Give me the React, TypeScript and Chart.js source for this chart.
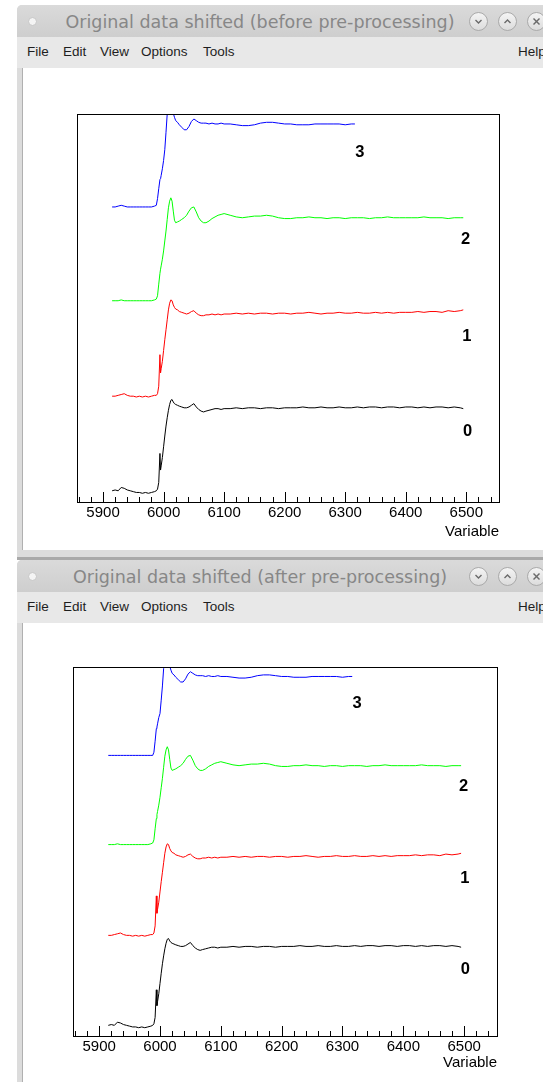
import React, { useEffect, useRef } from "react";
import { Chart, registerables } from "chart.js";

Chart.register(...registerables);

// ---------- data (normalised absorption, before vertical shift) ----------
const X_HEAD = [
  5915, 5920, 5925, 5930, 5935, 5940, 5945, 5950, 5955, 5960, 5965, 5970, 5975, 5980, 5985, 5988,
  5990, 5992, 5994, 5995, 5996, 5998, 6000, 6002, 6004, 6006, 6008, 6010, 6012, 6014, 6016, 6018, 6020, 6023,
  6026, 6030, 6034, 6038, 6042, 6046, 6050, 6054, 6058, 6062, 6066, 6070, 6075, 6080, 6085, 6090, 6095, 6100,
];
const X_TAIL = [
  6110, 6120, 6130, 6140, 6150, 6160, 6170, 6180, 6190, 6200, 6210, 6220, 6230, 6240, 6250, 6260, 6270, 6280, 6290, 6300,
  6310, 6320, 6330, 6340, 6350, 6360, 6370, 6380, 6390, 6400, 6410, 6420, 6430, 6440, 6450, 6460, 6470, 6480, 6490, 6495,
];
const X_TAIL_BLUE = [
  6110, 6120, 6130, 6140, 6150, 6160, 6170, 6180, 6190, 6200, 6210, 6220, 6230, 6240, 6250, 6260, 6270, 6280, 6290, 6300,
  6310, 6316,
];

const SERIES_0 = [
  0.0, 0.01, 0.0, 0.04, 0.03, 0.01, 0.0, -0.01, -0.02, -0.02, -0.03, -0.02, -0.03, -0.02, -0.01, 0.0,
  0.02, 0.1, 0.45, 0.25, 0.3, 0.4, 0.53, 0.66, 0.78, 0.88, 0.97, 1.04, 1.09, 1.1, 1.07, 1.05, 1.04, 1.03,
  1.02, 1.01, 1.0, 1.0, 1.01, 1.03, 1.05, 1.01, 0.98, 0.96, 0.95, 0.96, 0.97, 0.98, 0.99, 0.99, 0.98, 0.99,
  0.99, 1.0, 0.99, 1.0, 1.0, 0.99, 1.0, 1.0, 0.99, 1.0, 1.0, 1.0, 1.01, 1.0, 1.0, 1.01, 1.0, 1.0, 1.01, 1.0,
  1.0, 1.01, 1.0, 1.01, 1.01, 1.0, 1.01, 1.01, 1.0, 1.01, 1.01, 1.0, 1.01, 1.0, 1.01, 1.01, 1.0, 1.01, 1.0, 0.99,
];
const SERIES_1 = [
  0.0, 0.0, 0.01, 0.02, 0.03, 0.01, 0.0, 0.0, -0.01, 0.0, -0.01, 0.0, -0.01, 0.0, 0.01, 0.01,
  0.03, 0.12, 0.5, 0.28, 0.33, 0.42, 0.55, 0.68, 0.8, 0.92, 1.04, 1.12, 1.16, 1.15, 1.1, 1.07, 1.05, 1.04,
  1.02, 1.01, 1.0, 0.99, 1.0, 1.02, 1.03, 1.0, 0.98, 0.97, 0.97, 0.98, 0.98, 0.99, 0.98, 0.99, 0.98, 0.99,
  0.99, 1.0, 0.99, 1.0, 0.99, 1.0, 1.0, 0.99, 1.0, 1.0, 0.99, 1.0, 1.0, 1.01, 1.0, 0.99, 1.0, 1.0, 1.01, 1.0,
  1.0, 1.01, 1.0, 1.0, 1.01, 1.0, 1.01, 1.0, 1.01, 1.01, 1.01, 1.02, 1.01, 1.02, 1.02, 1.01, 1.03, 1.02, 1.03, 1.04,
];
const SERIES_2 = [
  0.0, 0.0, 0.0, 0.01, 0.0, 0.0, 0.0, 0.0, 0.0, 0.0, 0.0, 0.0, 0.0, 0.0, 0.01, 0.02,
  0.06, 0.2, 0.33, 0.38, 0.42, 0.5, 0.6, 0.72, 0.84, 0.98, 1.12, 1.2, 1.24, 1.2, 1.08, 0.97, 0.94, 0.95,
  0.96, 0.98, 1.0, 1.03, 1.08, 1.12, 1.13, 1.07, 1.0, 0.96, 0.94, 0.94, 0.96, 0.99, 1.01, 1.03, 1.04, 1.05,
  1.03, 1.01, 1.0, 1.01, 1.02, 1.02, 1.03, 1.02, 1.0, 0.99, 0.99, 1.0, 1.0, 1.01, 1.0, 1.0, 0.99, 1.0, 1.0, 0.99,
  1.0, 1.0, 1.0, 0.99, 1.0, 1.0, 1.01, 1.0, 1.0, 1.0, 1.0, 1.0, 1.01, 1.0, 1.0, 1.0, 0.99, 1.0, 1.0, 1.0,
];
const SERIES_3_BEFORE = [
  0.0, 0.0, 0.01, 0.02, 0.01, 0.0, 0.0, 0.0, 0.0, 0.0, 0.0, 0.0, 0.0, 0.0, 0.01, 0.02,
  0.1, 0.22, 0.33, 0.34, 0.38, 0.46, 0.56, 0.69, 0.9, 1.12, 1.18, 1.21, 1.2, 1.17, 1.13, 1.08, 1.04, 1.02,
  0.99, 0.96, 0.93, 0.93, 0.97, 1.03, 1.06, 1.04, 1.02, 1.01, 1.01, 1.01, 1.0, 1.01, 1.0, 1.0, 1.01, 1.0,
  1.0, 0.99, 0.98, 0.98, 0.99, 1.01, 1.02, 1.02, 1.01, 1.0, 1.0, 0.99, 0.99, 0.99, 1.0, 1.0, 1.0, 1.0, 1.0, 0.99,
  1.0, 1.0,
];
const SERIES_3_AFTER = [
  0.0, 0.0, 0.0, 0.0, 0.0, 0.0, 0.0, 0.0, 0.0, 0.0, 0.0, 0.0, 0.0, 0.0, 0.0, 0.0,
  0.04, 0.18, 0.34, 0.36, 0.4, 0.48, 0.53, 0.7, 0.88, 1.1, 1.18, 1.21, 1.2, 1.17, 1.13, 1.08, 1.04, 1.02,
  0.99, 0.96, 0.93, 0.93, 0.97, 1.03, 1.06, 1.04, 1.02, 1.01, 1.01, 1.01, 1.0, 1.01, 1.0, 1.0, 1.01, 1.0,
  1.0, 0.99, 0.98, 0.98, 0.99, 1.01, 1.02, 1.02, 1.01, 1.0, 1.0, 0.99, 0.99, 0.99, 1.0, 1.0, 1.0, 1.0, 1.0, 0.99,
  1.0, 1.0,
];

const SERIES_NAMES = ["0", "1", "2", "3"];
const SHIFTS = [0, 1.14, 2.29, 3.42];
const COLORS = ["#000000", "#ff0000", "#00ff00", "#0000ff"];
const LABEL_X = [6502, 6501, 6499, 6324];
const LABEL_Y = [0.71, 1.86, 3.03, 4.08];
const MAJOR_TICKS = [5900, 6000, 6100, 6200, 6300, 6400, 6500];
const X_MIN = 5857;
const X_MAX = 6554;
const Y_MIN = -0.135;
const Y_MAX = 4.54;
const MINOR_START = 5860;
const MINOR_STEP = 20;

const FONT = '"Liberation Sans", Arial, Helvetica, sans-serif';

const rootFrame = {
  id: "rootFrame",
  afterDraw(chart: any) {
    const { ctx, chartArea: a, scales } = chart;
    const xs = scales.x;
    const ys = scales.y;
    ctx.save();
    ctx.strokeStyle = "#000";
    ctx.lineWidth = 1;
    ctx.strokeRect(
      Math.round(a.left) + 0.5,
      Math.round(a.top) + 0.5,
      Math.round(a.right - a.left),
      Math.round(a.bottom - a.top)
    );
    ctx.beginPath();
    for (let v = MINOR_START; v <= X_MAX; v += MINOR_STEP) {
      const px = Math.round(xs.getPixelForValue(v)) + 0.5;
      const len = v % 100 === 0 ? 10 : 5;
      ctx.moveTo(px, Math.round(a.bottom));
      ctx.lineTo(px, Math.round(a.bottom) - len);
    }
    ctx.stroke();
    ctx.fillStyle = "#000";
    ctx.font = `bold 16.5px ${FONT}`;
    ctx.textAlign = "center";
    ctx.textBaseline = "middle";
    SERIES_NAMES.forEach((n, i) => {
      ctx.fillText(n, xs.getPixelForValue(LABEL_X[i]), ys.getPixelForValue(LABEL_Y[i]));
    });
    ctx.restore();
  },
};

function makeConfig(blue: number[], pad: any, axisH: number): any {
  const xs = [...X_HEAD, ...X_TAIL];
  const xsBlue = [...X_HEAD, ...X_TAIL_BLUE];
  const series = [SERIES_0, SERIES_1, SERIES_2, blue];
  const datasets = series.map((vals, i) => {
    const xv = i === 3 ? xsBlue : xs;
    const n = Math.min(vals.length, xv.length);
    const data = [];
    for (let j = 0; j < n; j++) data.push({ x: xv[j], y: vals[j] + SHIFTS[i] });
    return {
      label: SERIES_NAMES[i],
      data,
      borderColor: COLORS[i],
      backgroundColor: COLORS[i],
      borderWidth: 1,
      pointRadius: 0,
      tension: 0,
      fill: false,
    };
  });
  return {
    type: "line",
    data: { datasets },
    options: {
      animation: false,
      responsive: false,
      maintainAspectRatio: false,
      devicePixelRatio: 1,
      layout: { padding: pad },
      plugins: { legend: { display: false }, tooltip: { enabled: false }, title: { display: false } },
      scales: {
        x: {
          type: "linear",
          min: X_MIN,
          max: X_MAX,
          grid: { display: false, drawTicks: false, tickLength: 0 },
          border: { display: false },
          afterBuildTicks: (s: any) => {
            s.ticks = MAJOR_TICKS.map((v) => ({ value: v }));
          },
          afterFit: (s: any) => {
            s.height = axisH;
          },
          ticks: {
            font: { family: FONT, size: 15 },
            color: "#000",
            padding: 2,
            maxRotation: 0,
            autoSkip: false,
            callback: (v: any) => String(v),
          },
          title: {
            display: true,
            text: "Variable",
            align: "end",
            font: { family: FONT, size: 15 },
            color: "#000",
            padding: { top: 0, bottom: 0 },
          },
        },
        y: { display: false, min: Y_MIN, max: Y_MAX },
      },
    },
    plugins: [rootFrame],
  };
}

function ChartCanvas(props: { blue: number[]; pad: any; axisH: number; left: number; top: number; width: number; height: number }) {
  const ref = useRef<HTMLCanvasElement>(null);
  useEffect(() => {
    const chart = new Chart(ref.current as HTMLCanvasElement, makeConfig(props.blue, props.pad, props.axisH));
    return () => chart.destroy();
  }, []);
  return (
    <canvas
      ref={ref}
      width={props.width}
      height={props.height}
      style={{ position: "absolute", left: props.left, top: props.top, width: props.width, height: props.height, display: "block" }}
    />
  );
}

function Glyph({ kind }: { kind: string }) {
  const stroke = "#6a6a6a";
  return (
    <svg width="17" height="17" viewBox="0 0 17 17" style={{ position: "absolute", left: 0, top: 0 }}>
      {kind === "down" && <polyline points="5.5,7 8.5,10 11.5,7" fill="none" stroke={stroke} strokeWidth="1.4" />}
      {kind === "up" && <polyline points="5.5,10 8.5,7 11.5,10" fill="none" stroke={stroke} strokeWidth="1.4" />}
      {kind === "close" && (
        <g stroke={stroke} strokeWidth="1.4">
          <line x1="5.5" y1="5.5" x2="11.5" y2="11.5" />
          <line x1="11.5" y1="5.5" x2="5.5" y2="11.5" />
        </g>
      )}
    </svg>
  );
}

const MENU_ITEMS = [
  { t: "File", x: 27 },
  { t: "Edit", x: 63 },
  { t: "View", x: 100 },
  { t: "Options", x: 141 },
  { t: "Tools", x: 203 },
  { t: "Help", x: 518 },
];

function WindowChrome({ top, bottom, title }: { top: number; bottom: number; title: string }) {
  const abs = { position: "absolute" as const };
  return (
    <>
      <div style={{ ...abs, left: 17, top, width: 560, height: bottom - top, background: "#dcdcdc", borderTopLeftRadius: 5 }} />
      <div
        style={{
          ...abs,
          left: 17,
          top,
          width: 560,
          height: 32,
          background: "linear-gradient(#dadada, #cecece)",
          borderTopLeftRadius: 5,
        }}
      />
      <div
        style={{
          ...abs,
          left: 0,
          width: 520,
          top: top + 5,
          height: 24,
          lineHeight: "24px",
          textAlign: "center",
          fontFamily: '"DejaVu Sans", sans-serif',
          fontSize: 17.5,
          color: "#878787",
          whiteSpace: "nowrap",
        }}
      >
        {title}
      </div>
      <div
        style={{
          ...abs,
          left: 28,
          top: top + 12,
          width: 7,
          height: 7,
          borderRadius: "50%",
          background: "#f4f4f4",
          border: "1px solid #c6c6c6",
        }}
      />
      {[
        { cx: 478, k: "down" },
        { cx: 507, k: "up" },
        { cx: 536, k: "close" },
      ].map((b) => (
        <div
          key={b.k}
          style={{
            ...abs,
            left: b.cx - 9,
            top: top + 7,
            width: 17,
            height: 17,
            borderRadius: "50%",
            background: "linear-gradient(#f4f4f4, #dcdcdc)",
            border: "1px solid #aaaaaa",
          }}
        >
          <Glyph kind={b.k} />
        </div>
      ))}
      <div style={{ ...abs, left: 17, top: top + 32, width: 560, height: 31, background: "#e8e8e8" }} />
      {MENU_ITEMS.map((m) => (
        <div
          key={m.t}
          style={{
            ...abs,
            left: m.x,
            top: top + 38,
            height: 18,
            lineHeight: "18px",
            fontFamily: FONT,
            fontSize: 13.5,
            color: "#1e1e1e",
            whiteSpace: "nowrap",
          }}
        >
          {m.t}
        </div>
      ))}
      <div
        style={{
          ...abs,
          left: 22,
          top: top + 63,
          width: 560,
          height: Math.min(bottom, 1082) - (top + 63),
          background: "#ffffff",
          borderLeft: "1px solid #b0b0b0",
          boxSizing: "border-box",
        }}
      />
    </>
  );
}

export default function App() {
  return (
    <div
      style={{
        position: "absolute",
        left: 0,
        top: 0,
        width: 543,
        height: 1082,
        overflow: "hidden",
        background: "#ffffff",
      }}
    >
      <WindowChrome top={5} bottom={557} title="Original data shifted (before pre-processing)" />
      <div style={{ position: "absolute", left: 22, top: 550, width: 560, height: 7, background: "#dcdcdc" }} />
      <div style={{ position: "absolute", left: 17, top: 557, width: 560, height: 3, background: "#a9a9a9" }} />
      <WindowChrome top={560} bottom={1082} title="Original data shifted (after pre-processing)" />
      <ChartCanvas
        blue={SERIES_3_BEFORE}
        pad={{ left: 54, right: 44, top: 46, bottom: 9 }}
        axisH={39}
        left={23}
        top={68}
        width={520}
        height={482}
      />
      <ChartCanvas
        blue={SERIES_3_AFTER}
        pad={{ left: 50, right: 46, top: 44, bottom: 10 }}
        axisH={36}
        left={23}
        top={623}
        width={520}
        height={459}
      />
    </div>
  );
}
